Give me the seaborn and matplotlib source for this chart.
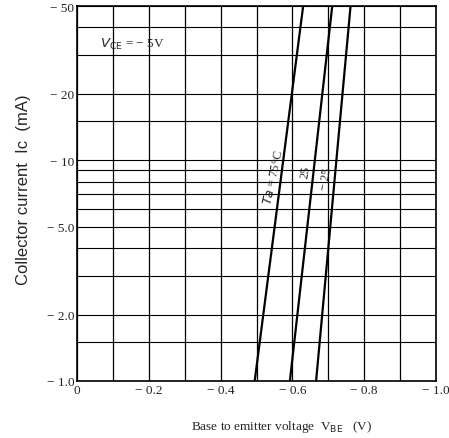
import matplotlib
matplotlib.use("Agg")
import matplotlib.pyplot as plt
import seaborn as sns
import pandas as pd
from matplotlib.ticker import FixedLocator, FixedFormatter, NullLocator

# Data (magnitudes; the chart shows negative values)
temps = ["75", "25", "-25"]
vbe_75 = [0.495, 0.630]
vbe_25 = [0.593, 0.711]
vbe_m25 = [0.666, 0.762]
ic_ends = [1.0, 50.0]

x_ticks = [0, 0.2, 0.4, 0.6, 0.8, 1.0]
x_tick_labels = ["0", "\u2212 0.2", "\u2212 0.4", "\u2212 0.6", "\u2212 0.8", "\u2212 1.0"]
y_ticks = [1, 2, 5, 10, 20, 50]
y_tick_labels = ["\u2212 1.0", "\u2212 2.0", "\u2212 5.0", "\u2212 10", "\u2212 20", "\u2212 50"]
x_grid = [0.1 * i for i in range(11)]
y_grid = [1, 1.5, 2, 3, 4, 5, 6, 7, 8, 9, 10, 15, 20, 30, 40, 50]

rows = []
for t, v in zip(temps, [vbe_75, vbe_25, vbe_m25]):
    for vv, ii in zip(v, ic_ends):
        rows.append({"Ta": t, "VBE": vv, "IC": ii})
df = pd.DataFrame(rows)

sns.set_theme(style="white")
plt.rcParams["font.family"] = ["Liberation Serif", "DejaVu Serif"]

fig = plt.figure(figsize=(4.49, 4.39), dpi=100)
ax = fig.add_axes([77 / 449, 1 - 382 / 439, (436 - 77) / 449, (382 - 7) / 439])

sns.lineplot(data=df, x="VBE", y="IC", hue="Ta", palette=["black"] * 3,
             legend=False, ax=ax, linewidth=1.6)

ax.set_yscale("log")
ax.set_xlim(0, 1.0)
ax.set_ylim(1, 50)

for gx in x_grid:
    ax.axvline(gx, color="black", lw=0.9, zorder=0)
for gy in y_grid:
    ax.axhline(gy, color="black", lw=0.8, zorder=0)

ax.xaxis.set_major_locator(FixedLocator(x_ticks))
ax.xaxis.set_major_formatter(FixedFormatter(x_tick_labels))
ax.yaxis.set_major_locator(FixedLocator(y_ticks))
ax.yaxis.set_major_formatter(FixedFormatter(y_tick_labels))
ax.yaxis.set_minor_locator(NullLocator())
ax.tick_params(axis="both", length=0, labelsize=9.5, colors="#222222", pad=2)
for s in ax.spines.values():
    s.set_color("black")
    s.set_linewidth(1.2)

ax.set_xlabel("Base to emitter voltage  V$_{\\mathrm{BE}}$   (V)", fontsize=9.5,
              va="center")
ax.xaxis.set_label_coords(0.571, -0.12)
ax.set_ylabel("Collector current  Ic  (mA)", fontsize=12,
              family=["Liberation Sans", "DejaVu Sans"])
ax.yaxis.set_label_coords(-0.128, 0.512)

ax.text(0.064, 34, "$V_{\\mathrm{CE}}$ = \u2212 5V", fontsize=9.5, va="center", ha="left")

ax.text(0.548, 8.4, "$Ta$ = 75\u00b0C", fontsize=9, rotation=78, ha="center", va="center")
ax.text(0.638, 8.9, "25", fontsize=9, rotation=80, ha="center", va="center")
ax.text(0.695, 8.3, "\u2212 25", fontsize=9, rotation=80, ha="center", va="center")

fig.savefig("out.png", dpi=100)
